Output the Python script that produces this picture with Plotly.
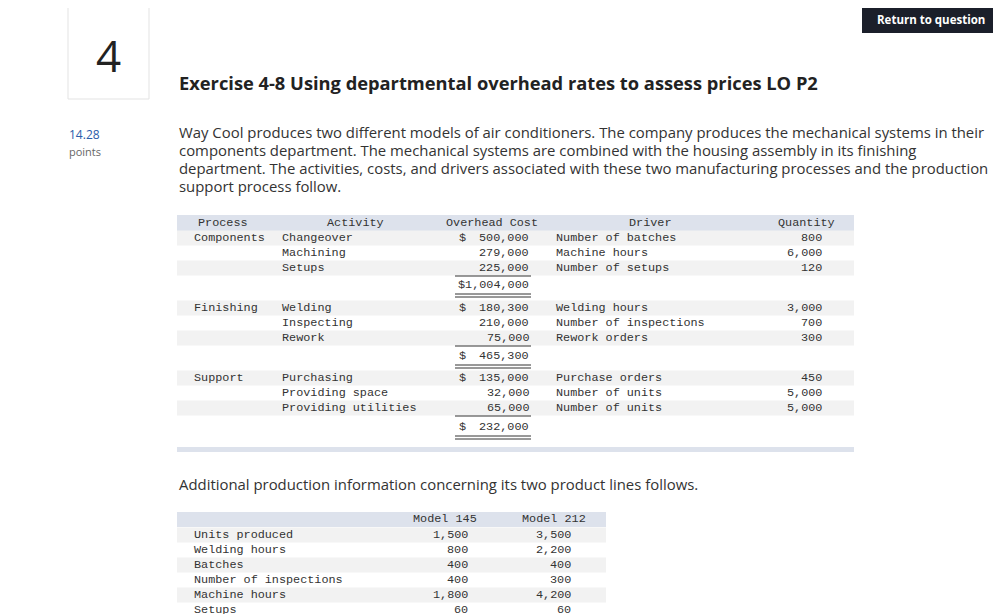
import plotly.graph_objects as go

process = ["Components", "", "", "", "Finishing", "", "", "", "Support", "", "", ""]
activity = ["Changeover", "Machining", "Setups", "", "Welding", "Inspecting", "Rework", "",
            "Purchasing", "Providing space", "Providing utilities", ""]
cost_sign = ["$", "", "", "", "$", "", "", "$", "$", "", "", "$"]
cost = ["500,000", "279,000", "225,000", "$1,004,000", "180,300", "210,000", "75,000", "465,300",
        "135,000", "32,000", "65,000", "232,000"]
driver = ["Number of batches", "Machine hours", "Number of setups", "", "Welding hours",
          "Number of inspections", "Rework orders", "", "Purchase orders", "Number of units",
          "Number of units", ""]
quantity = ["800", "6,000", "120", "", "3,000", "700", "300", "", "450", "5,000", "5,000", ""]
row_y = [238, 253, 268, 285, 308, 323, 338, 356, 378, 393, 408, 427]

items = ["Units produced", "Welding hours", "Batches", "Number of inspections", "Machine hours", "Setups"]
model145 = ["1,500", "800", "400", "400", "1,800", "60"]
model212 = ["3,500", "2,200", "400", "300", "4,200", "60"]
row_y2 = [535, 550, 565, 580, 595, 610]

paragraph = ["Way Cool produces two different models of air conditioners. The company produces the mechanical systems in their",
             "components department. The mechanical systems are combined with the housing assembly in its finishing",
             "department. The activities, costs, and drivers associated with these two manufacturing processes and the production",
             "support process follow."]

MONO = "Liberation Mono"
SANS = "Open Sans"
HDR = "#dde2ec"
ALT = "#f2f2f2"
TXT = "#333333"
MS = 11.8

fig = go.Figure()
shapes = []
ann = []

def t(x, y, s, size=MS, font=MONO, color=TXT, anchor="left", bold=False):
    ann.append(dict(x=x, y=y, text=("<b>%s</b>" % s) if bold else s, showarrow=False, xref="x", yref="y",
                    xanchor=anchor, yanchor="middle", font=dict(family=font, size=size, color=color)))

def rect(x0, y0, x1, y1, fill, line=None, w=0):
    shapes.append(dict(type="rect", x0=x0, y0=y0, x1=x1, y1=y1, xref="x", yref="y", fillcolor=fill,
                       line=dict(color=line or fill, width=w), layer="below"))

def hline(x0, x1, y, w=1, c="#333"):
    shapes.append(dict(type="line", x0=x0, x1=x1, y0=y, y1=y, xref="x", yref="y", line=dict(color=c, width=w)))

shapes.append(dict(type="rect", x0=68, y0=7, x1=149, y1=99, xref="x", yref="y",
                   line=dict(color="#e3e3e3", width=1), fillcolor="white"))
t(108, 55, "4", size=44, font=SANS, color="#222", anchor="center")
rect(862, 5, 1000, 33, "#1b1f2a")
t(931, 19, "Return to question", size=11.5, font=SANS, color="white", anchor="center", bold=True)

t(177, 82, "Exercise 4-8 Using departmental overhead rates to assess prices LO P2", size=18.3, font=SANS, color="#222", bold=True)
t(67, 134, "14.28", size=12, font=SANS, color="#2a5caa")
t(67, 151, "points", size=11, font=SANS, color="#666")
for i, line in enumerate(paragraph):
    t(177, 132 + 18 * i, line, size=14.9, font=SANS, color=TXT)

rect(177, 215, 854, 231, HDR)
for i, y in enumerate(row_y):
    h = 10 if cost_sign[i] and activity[i] == "" else 7.5
    if i % 2 == 0:
        rect(177, y - h, 854, y + h, ALT)
t(223, 223, "Process", anchor="center")
t(355, 223, "Activity", anchor="center")
t(492, 223, "Overhead Cost", anchor="center")
t(650, 223, "Driver", anchor="center")
t(806, 223, "Quantity", anchor="center")
for i, y in enumerate(row_y):
    t(192, y, process[i])
    t(280, y, activity[i])
    if cost_sign[i]:
        t(457, y, cost_sign[i])
    t(531, y, cost[i], anchor="right")
    t(554, y, driver[i])
    t(824, y, quantity[i], anchor="right")
    if i + 1 < len(row_y) and activity[i] != "" and activity[i + 1] == "":
        hline(455, 531, y + 8)
    if activity[i] == "":
        hline(455, 531, y + 9)
        hline(455, 531, y + 12)
rect(177, 447, 854, 452, HDR)

t(177, 484, "Additional production information concerning its two product lines follows.", size=14.9, font=SANS, color=TXT)

rect(177, 512, 606, 527, HDR)
t(445, 519, "Model 145", anchor="center")
t(554, 519, "Model 212", anchor="center")
for i, y in enumerate(row_y2):
    if i % 2 == 0:
        rect(177, y - 7.5, 606, y + 7.5, ALT)
    t(192, y, items[i])
    t(470, y, model145[i], anchor="right")
    t(573, y, model212[i], anchor="right")

fig.update_layout(width=1001, height=614, margin=dict(l=0, r=0, t=0, b=0),
                  paper_bgcolor="white", plot_bgcolor="white", shapes=shapes, annotations=ann,
                  xaxis=dict(range=[8, 1009], visible=False, fixedrange=True),
                  yaxis=dict(range=[622, 8], visible=False, fixedrange=True), showlegend=False)
fig.write_html("out.html", config={"displayModeBar": False})
